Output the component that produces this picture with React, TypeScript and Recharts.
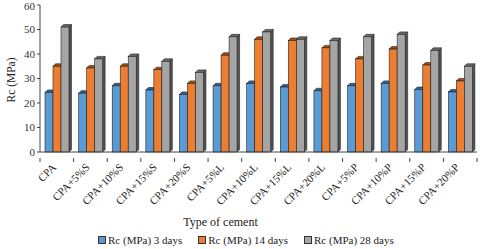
import { BarChart, Bar, XAxis, YAxis } from "recharts";

const categories = [
  "CPA", "CPA+5%S", "CPA+10%S", "CPA+15%S", "CPA+20%S",
  "CPA+5%L", "CPA+10%L", "CPA+15%L", "CPA+20%L",
  "CPA+5%P", "CPA+10%P", "CPA+15%P", "CPA+20%P",
];
const days3 = [24.3, 24, 27, 25.3, 23.5, 27, 28, 26.5, 25, 27, 28, 25.5, 24.5];
const days14 = [35, 34.3, 35, 33.6, 28, 39.5, 46, 45.5, 42.5, 38, 42, 35.5, 29];
const days28 = [51, 38, 39, 37, 32.5, 47, 49, 46, 45.5, 47, 48, 41.5, 35];
const yTicks = [0, 10, 20, 30, 40, 50, 60];

const seriesNames = ["Rc (MPa) 3 days", "Rc (MPa) 14 days", "Rc (MPa) 28 days"];
const colors = ["#5b9bd5", "#ed7d31", "#a5a5a5"];
const tops = ["#2f6497", "#a84d12", "#6b6b6b"];
const sides = ["#3d76ab", "#b8591b", "#555555"];

const data = categories.map((name, i) => ({
  name,
  d3: days3[i],
  d14: days14[i],
  d28: days28[i],
}));

const FONT = "'Liberation Serif', 'Times New Roman', serif";
const DEPTH = 2.5;

const makeShape = (idx: number) => (props: any) => {
  const { x, y, width, height } = props;
  if (height == null || height <= 0) return <g />;
  const d = DEPTH;
  return (
    <g>
      <polygon
        points={`${x + width},${y} ${x + width + d},${y - d} ${x + width + d},${y + height - d} ${x + width},${y + height}`}
        fill={sides[idx]}
        stroke="#222"
        strokeWidth={0.6}
      />
      <polygon
        points={`${x},${y} ${x + d},${y - d} ${x + width + d},${y - d} ${x + width},${y}`}
        fill={tops[idx]}
        stroke="#222"
        strokeWidth={0.6}
      />
      <rect x={x} y={y} width={width} height={height} fill={colors[idx]} stroke="#222" strokeWidth={0.6} />
    </g>
  );
};

const PLOT_LEFT = 40;
const PLOT_RIGHT = 477;
const BAND = (PLOT_RIGHT - PLOT_LEFT) / categories.length;

const XTick = (props: any) => {
  const { x, y, payload, index } = props;
  const left = x - BAND / 2;
  return (
    <g>
      <line x1={left} y1={y - 2} x2={left} y2={y + 2} stroke="#444" />
      {index === categories.length - 1 && (
        <line x1={x + BAND / 2} y1={y - 2} x2={x + BAND / 2} y2={y + 2} stroke="#444" />
      )}
      <text
        x={x}
        y={y + 8}
        textAnchor="end"
        fontSize={11}
        fontFamily={FONT}
        fill="#222"
        transform={`rotate(-45, ${x}, ${y + 8})`}
      >
        {payload.value}
      </text>
    </g>
  );
};

const Legend3 = () => (
  <div
    style={{
      position: "absolute",
      top: 234,
      left: 98,
      display: "flex",
      fontFamily: FONT,
      fontSize: 11,
      color: "#222",
      whiteSpace: "nowrap",
    }}
  >
    {seriesNames.map((n, i) => (
      <div key={n} style={{ display: "flex", alignItems: "center", marginRight: 16 }}>
        <span
          style={{
            display: "inline-block",
            width: 6,
            height: 6,
            background: colors[i],
            border: "1px solid #333",
            marginRight: 2,
          }}
        />
        {n}
      </div>
    ))}
  </div>
);

export default function App() {
  return (
    <div style={{ position: "absolute", left: 0, top: 0, width: 480, height: 249, background: "#fff" }}>
      <BarChart
        width={480}
        height={249}
        data={data}
        margin={{ top: 5, right: 3, left: 0, bottom: 25 }}
        barGap={0}
        barSize={8}
      >
        <YAxis
          width={40}
          domain={[0, 60]}
          ticks={yTicks}
          tickSize={3}
          axisLine={{ stroke: "#444" }}
          tickLine={{ stroke: "#444" }}
          tick={{ fontSize: 11, fontFamily: FONT, fill: "#333" }}
          label={{
            value: "Rc (MPa)",
            angle: -90,
            position: "insideLeft",
            dx: 6,
            dy: 24,
            style: { fontSize: 11.5, fontFamily: FONT, fill: "#222" },
          }}
        />
        <XAxis
          dataKey="name"
          height={72}
          interval={0}
          tickLine={false}
          axisLine={{ stroke: "#444" }}
          tick={<XTick />}
          label={{
            value: "Type of cement",
            position: "insideBottom",
            offset: 0,
            dx: -38,
            dy: 2,
            style: { fontSize: 12, fontFamily: FONT, fill: "#222" },
          }}
        />
        <Bar dataKey="d3" name={seriesNames[0]} fill={colors[0]} shape={makeShape(0)} isAnimationActive={false} />
        <Bar dataKey="d14" name={seriesNames[1]} fill={colors[1]} shape={makeShape(1)} isAnimationActive={false} />
        <Bar dataKey="d28" name={seriesNames[2]} fill={colors[2]} shape={makeShape(2)} isAnimationActive={false} />
      </BarChart>
      <Legend3 />
    </div>
  );
}
